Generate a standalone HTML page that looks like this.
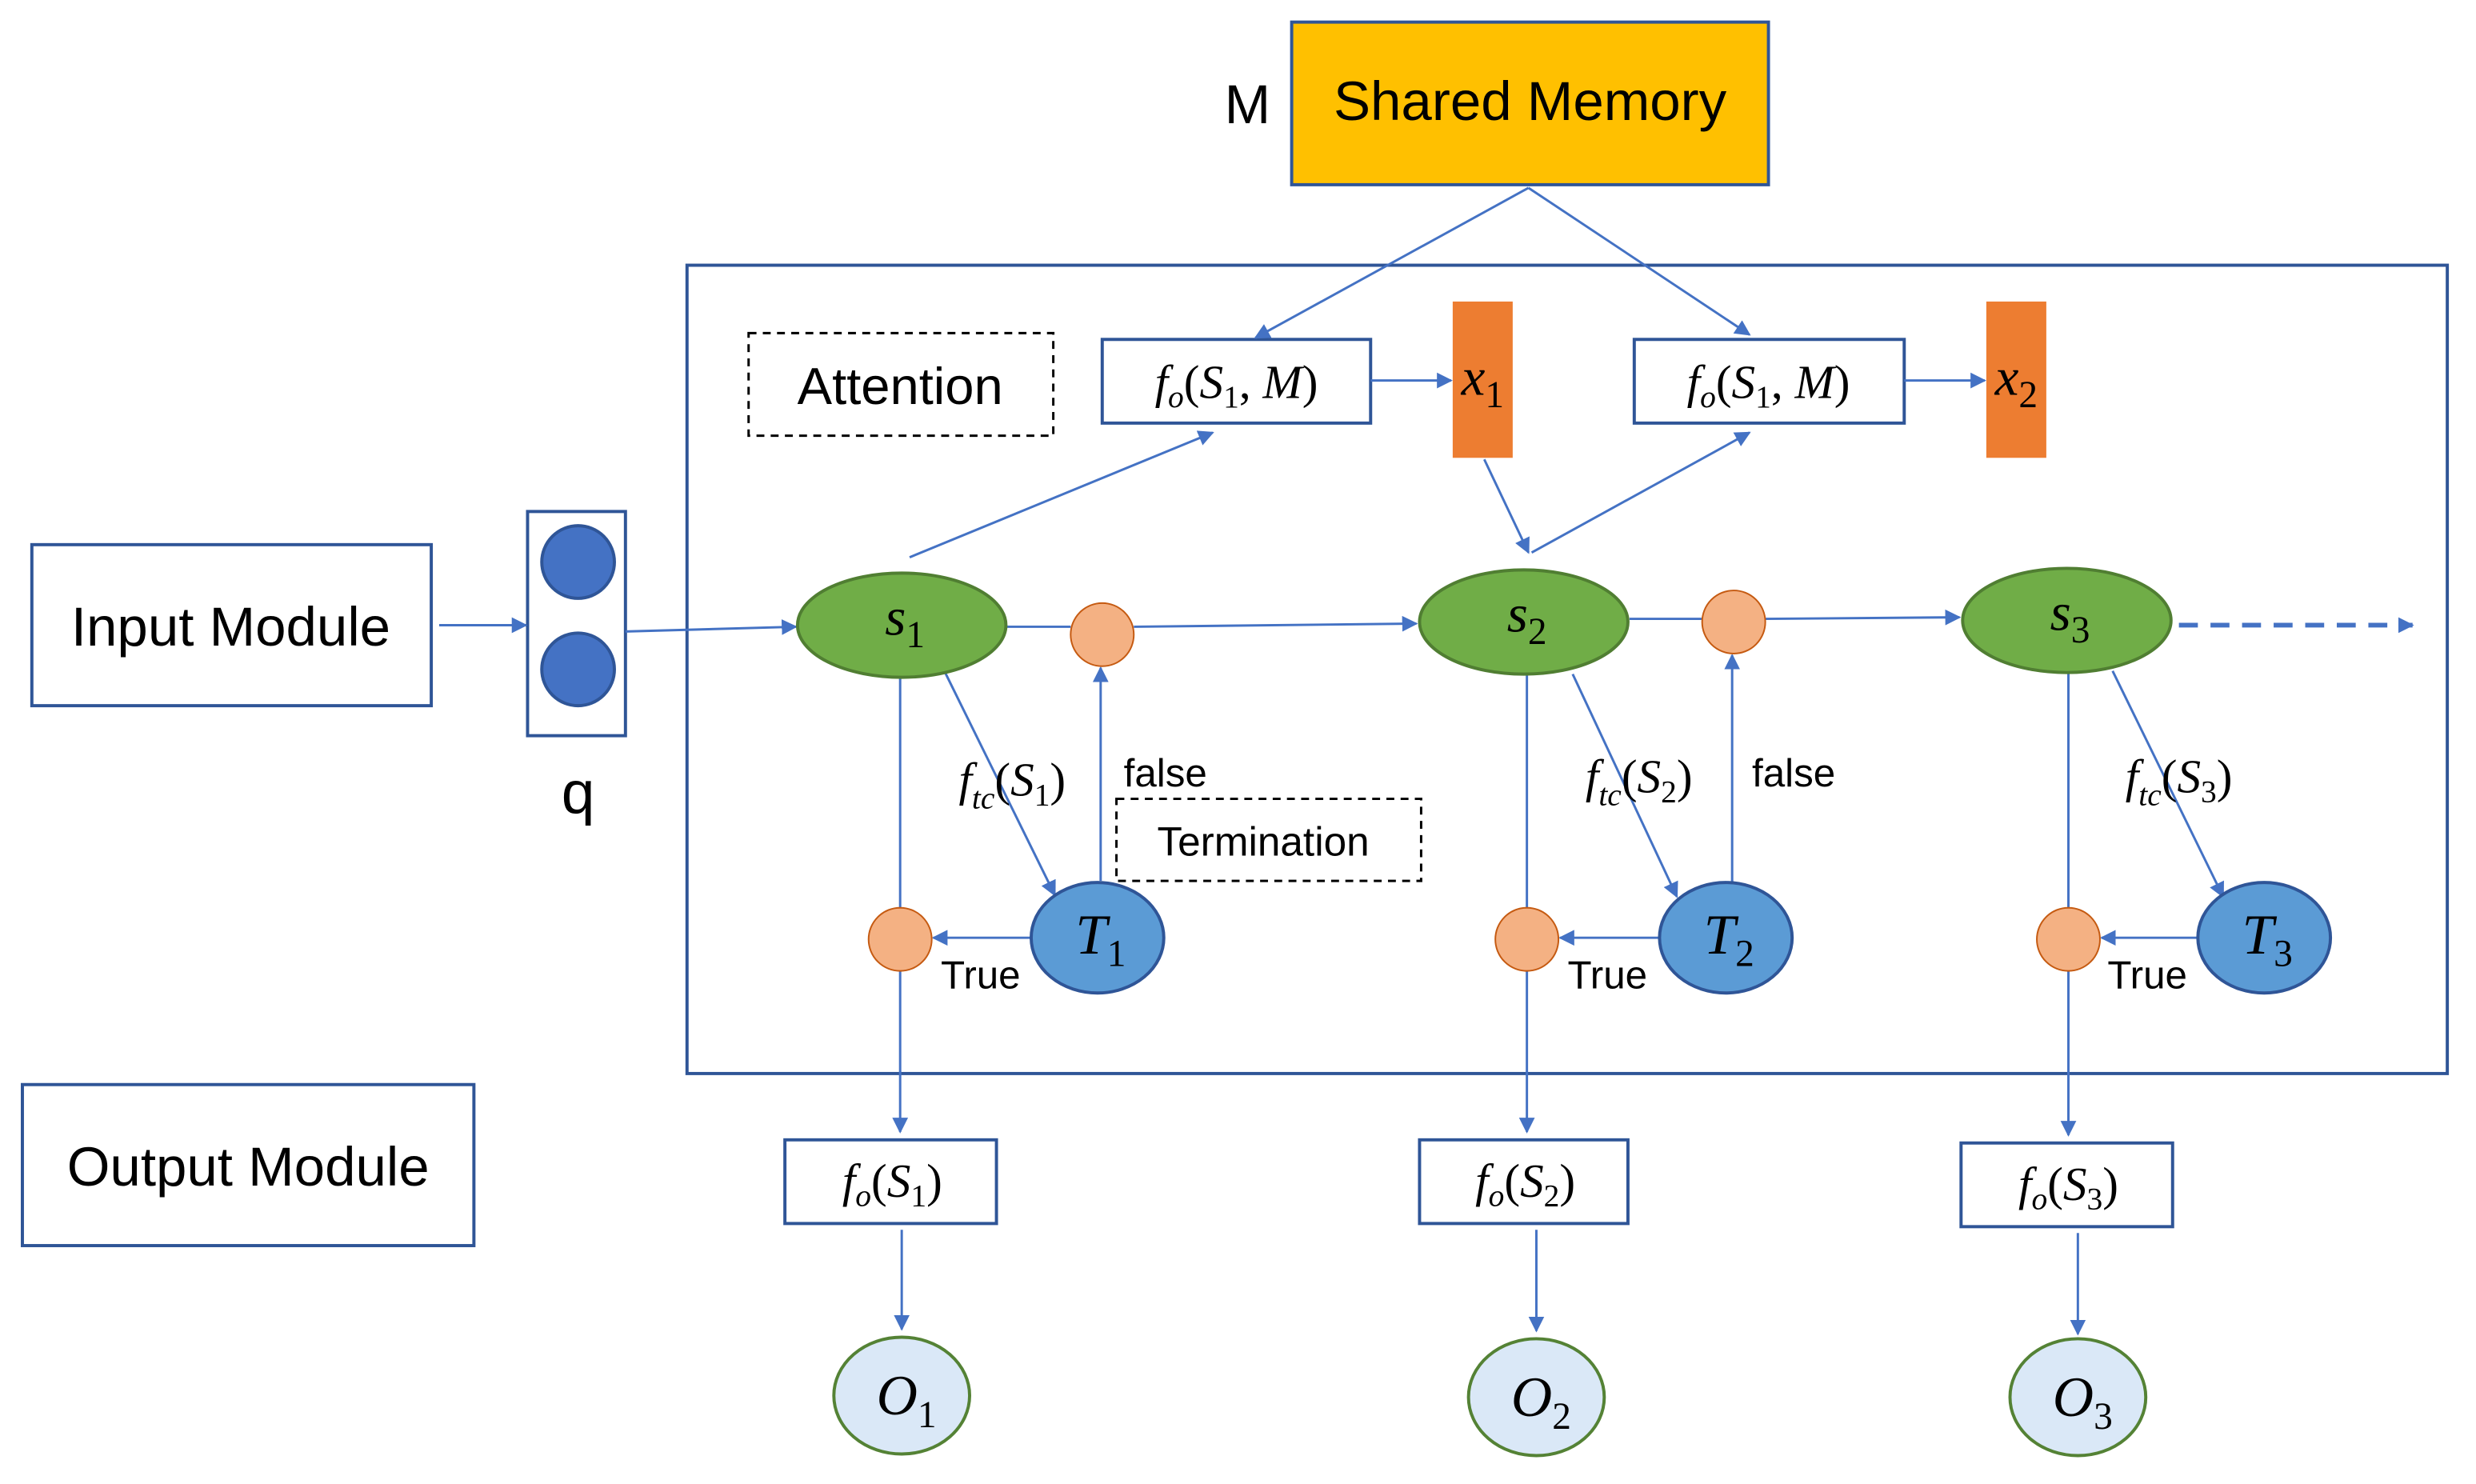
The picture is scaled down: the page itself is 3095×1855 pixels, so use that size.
<!DOCTYPE html>
<html><head><meta charset="utf-8"><style>
html,body{margin:0;padding:0;background:#fff;}
svg{display:block;}
.s{font-family:"Liberation Sans",sans-serif;fill:#000;}
.m{font-family:"Liberation Serif",serif;font-style:italic;fill:#000;}
.sub{font-style:normal;}
</style></head><body>
<svg width="3095" height="1855" viewBox="0 0 1568 940" xmlns="http://www.w3.org/2000/svg">
<defs>
<marker id="a" markerWidth="10" markerHeight="10" refX="9" refY="5" orient="auto" markerUnits="userSpaceOnUse">
<path d="M0,0 L10,5 L0,10 z" fill="#4472C4"/></marker>
</defs>
<g fill="none" stroke="#2F5597" stroke-width="2">
<rect x="818" y="14" width="302" height="103" fill="#FFC000"/>
<rect x="435" y="168" width="1115" height="512"/>
<rect x="20" y="345" width="253" height="102"/>
<rect x="14" y="687" width="286" height="102"/>
<rect x="334" y="324" width="62" height="142"/>
<rect x="698" y="215" width="170" height="53" fill="#fff"/>
<rect x="1035" y="215" width="171" height="53" fill="#fff"/>
<rect x="497" y="722" width="134" height="53"/>
<rect x="899" y="722" width="132" height="53"/>
<rect x="1242" y="724" width="134" height="53"/>
</g>
<g fill="none" stroke="#000" stroke-width="1.5" stroke-dasharray="5,4">
<rect x="474" y="211" width="193" height="65"/>
<rect x="707" y="506" width="193" height="52"/>
</g>
<rect x="920" y="191" width="38" height="99" fill="#ED7D31"/>
<rect x="1258" y="191" width="38" height="99" fill="#ED7D31"/>
<g fill="#4472C4" stroke="#2F5597" stroke-width="2">
<circle cx="366" cy="356" r="23"/><circle cx="366" cy="424" r="23"/>
</g>
<g stroke="#4472C4" stroke-width="1.5" fill="none">
<line x1="278" y1="396" x2="333" y2="396" marker-end="url(#a)"/>
<line x1="396" y1="400" x2="504" y2="397" marker-end="url(#a)"/>
<line x1="637" y1="397" x2="678" y2="397"/>
<line x1="718" y1="397" x2="897" y2="395" marker-end="url(#a)"/>
<line x1="1032" y1="392" x2="1078" y2="392"/>
<line x1="1118" y1="392" x2="1241" y2="391" marker-end="url(#a)"/>
<line x1="576" y1="353" x2="768" y2="274" marker-end="url(#a)"/>
<line x1="968" y1="119" x2="795" y2="214" marker-end="url(#a)"/>
<line x1="968" y1="119" x2="1108" y2="212" marker-end="url(#a)"/>
<line x1="940" y1="291" x2="968" y2="350" marker-end="url(#a)"/>
<line x1="970" y1="350" x2="1108" y2="274" marker-end="url(#a)"/>
<line x1="868" y1="241" x2="919" y2="241" marker-end="url(#a)"/>
<line x1="1206" y1="241" x2="1257" y2="241" marker-end="url(#a)"/>
<line x1="598" y1="425" x2="668" y2="567" marker-end="url(#a)"/>
<line x1="697" y1="558" x2="697" y2="423" marker-end="url(#a)"/>
<line x1="653" y1="594" x2="591" y2="594" marker-end="url(#a)"/>
<line x1="570" y1="429" x2="570" y2="575"/>
<line x1="570" y1="615" x2="570" y2="717" marker-end="url(#a)"/>
<line x1="571" y1="779" x2="571" y2="842" marker-end="url(#a)"/>
<line x1="996" y1="427" x2="1062" y2="568" marker-end="url(#a)"/>
<line x1="1097" y1="559" x2="1097" y2="415" marker-end="url(#a)"/>
<line x1="1051" y1="594" x2="988" y2="594" marker-end="url(#a)"/>
<line x1="967" y1="427" x2="967" y2="575"/>
<line x1="967" y1="615" x2="967" y2="717" marker-end="url(#a)"/>
<line x1="973" y1="779" x2="973" y2="843" marker-end="url(#a)"/>
<line x1="1338" y1="425" x2="1408" y2="568" marker-end="url(#a)"/>
<line x1="1392" y1="594" x2="1331" y2="594" marker-end="url(#a)"/>
<line x1="1310" y1="426" x2="1310" y2="575"/>
<line x1="1310" y1="615" x2="1310" y2="719" marker-end="url(#a)"/>
<line x1="1316" y1="781" x2="1316" y2="845" marker-end="url(#a)"/>
<line x1="1380" y1="396" x2="1528" y2="396" stroke-width="3" stroke-dasharray="12,8" marker-end="url(#a)"/>
</g>
<g fill="#70AD47" stroke="#507E32" stroke-width="2">
<ellipse cx="571" cy="396" rx="66" ry="33"/>
<ellipse cx="965" cy="394" rx="66" ry="33"/>
<ellipse cx="1309" cy="393" rx="66" ry="33"/>
</g>
<g fill="#F4B183" stroke="#C55A11" stroke-width="1">
<circle cx="698" cy="402" r="20"/><circle cx="1098" cy="394" r="20"/>
<circle cx="570" cy="595" r="20"/><circle cx="967" cy="595" r="20"/><circle cx="1310" cy="595" r="20"/>
</g>
<g fill="#5B9BD5" stroke="#2F5597" stroke-width="2">
<ellipse cx="695" cy="594" rx="42" ry="35"/>
<ellipse cx="1093" cy="594" rx="42" ry="35"/>
<ellipse cx="1434" cy="594" rx="42" ry="35"/>
</g>
<g fill="#DAE8F7" stroke="#548235" stroke-width="2">
<ellipse cx="571" cy="884" rx="43" ry="37"/>
<ellipse cx="973" cy="885" rx="43" ry="37"/>
<ellipse cx="1316" cy="885" rx="43" ry="37"/>
</g>
<g class="s">
<text x="969" y="76" font-size="35" text-anchor="middle">Shared Memory</text>
<text x="790" y="78" font-size="35" text-anchor="middle">M</text>
<text x="146" y="409" font-size="35" text-anchor="middle">Input Module</text>
<text x="157" y="751" font-size="35" text-anchor="middle">Output Module</text>
<text x="366" y="515" font-size="38" text-anchor="middle">q</text>
<text x="570" y="256" font-size="33" text-anchor="middle">Attention</text>
<text x="800" y="542" font-size="26" text-anchor="middle">Termination</text>
<text x="738" y="498" font-size="25" text-anchor="middle">false</text>
<text x="1136" y="498" font-size="25" text-anchor="middle">false</text>
<text x="621" y="626" font-size="25" text-anchor="middle">True</text>
<text x="1018" y="626" font-size="25" text-anchor="middle">True</text>
<text x="1360" y="626" font-size="25" text-anchor="middle">True</text>
</g>
<g class="m" text-anchor="middle">
<text x="783" y="252" font-size="30">f<tspan font-size="20" dy="6">o</tspan><tspan dy="-6" class="sub">(</tspan>S<tspan font-size="20" dy="6" class="sub">1</tspan><tspan dy="-6" class="sub">, </tspan>M<tspan class="sub">)</tspan></text>
<text x="1120" y="252" font-size="30">f<tspan font-size="20" dy="6">o</tspan><tspan dy="-6" class="sub">(</tspan>S<tspan font-size="20" dy="6" class="sub">1</tspan><tspan dy="-6" class="sub">, </tspan>M<tspan class="sub">)</tspan></text>
<text x="939" y="250" font-size="34">x<tspan font-size="24" dy="8" class="sub">1</tspan></text>
<text x="1277" y="250" font-size="34">x<tspan font-size="24" dy="8" class="sub">2</tspan></text>
<text x="573" y="402" font-size="34">s<tspan font-size="24" dy="8" class="sub">1</tspan></text>
<text x="967" y="400" font-size="34">s<tspan font-size="24" dy="8" class="sub">2</tspan></text>
<text x="1311" y="399" font-size="34">s<tspan font-size="24" dy="8" class="sub">3</tspan></text>
<text x="697" y="604" font-size="36">T<tspan font-size="24" dy="8" class="sub">1</tspan></text>
<text x="1095" y="604" font-size="36">T<tspan font-size="24" dy="8" class="sub">2</tspan></text>
<text x="1436" y="604" font-size="36">T<tspan font-size="24" dy="8" class="sub">3</tspan></text>
<text x="574" y="896" font-size="36">O<tspan font-size="24" dy="8" class="sub">1</tspan></text>
<text x="976" y="897" font-size="36">O<tspan font-size="24" dy="8" class="sub">2</tspan></text>
<text x="1319" y="897" font-size="36">O<tspan font-size="24" dy="8" class="sub">3</tspan></text>
<text x="641" y="504" font-size="30">f<tspan font-size="20" dy="8">tc</tspan><tspan dy="-8" class="sub">(</tspan>S<tspan font-size="20" dy="6" class="sub">1</tspan><tspan dy="-6" class="sub">)</tspan></text>
<text x="1038" y="502" font-size="30">f<tspan font-size="20" dy="8">tc</tspan><tspan dy="-8" class="sub">(</tspan>S<tspan font-size="20" dy="6" class="sub">2</tspan><tspan dy="-6" class="sub">)</tspan></text>
<text x="1380" y="502" font-size="30">f<tspan font-size="20" dy="8">tc</tspan><tspan dy="-8" class="sub">(</tspan>S<tspan font-size="20" dy="6" class="sub">3</tspan><tspan dy="-6" class="sub">)</tspan></text>
<text x="565" y="758" font-size="30">f<tspan font-size="20" dy="6">o</tspan><tspan dy="-6" class="sub">(</tspan>S<tspan font-size="20" dy="6" class="sub">1</tspan><tspan dy="-6" class="sub">)</tspan></text>
<text x="966" y="758" font-size="30">f<tspan font-size="20" dy="6">o</tspan><tspan dy="-6" class="sub">(</tspan>S<tspan font-size="20" dy="6" class="sub">2</tspan><tspan dy="-6" class="sub">)</tspan></text>
<text x="1310" y="760" font-size="30">f<tspan font-size="20" dy="6">o</tspan><tspan dy="-6" class="sub">(</tspan>S<tspan font-size="20" dy="6" class="sub">3</tspan><tspan dy="-6" class="sub">)</tspan></text>
</g>
</svg>
</body></html>
